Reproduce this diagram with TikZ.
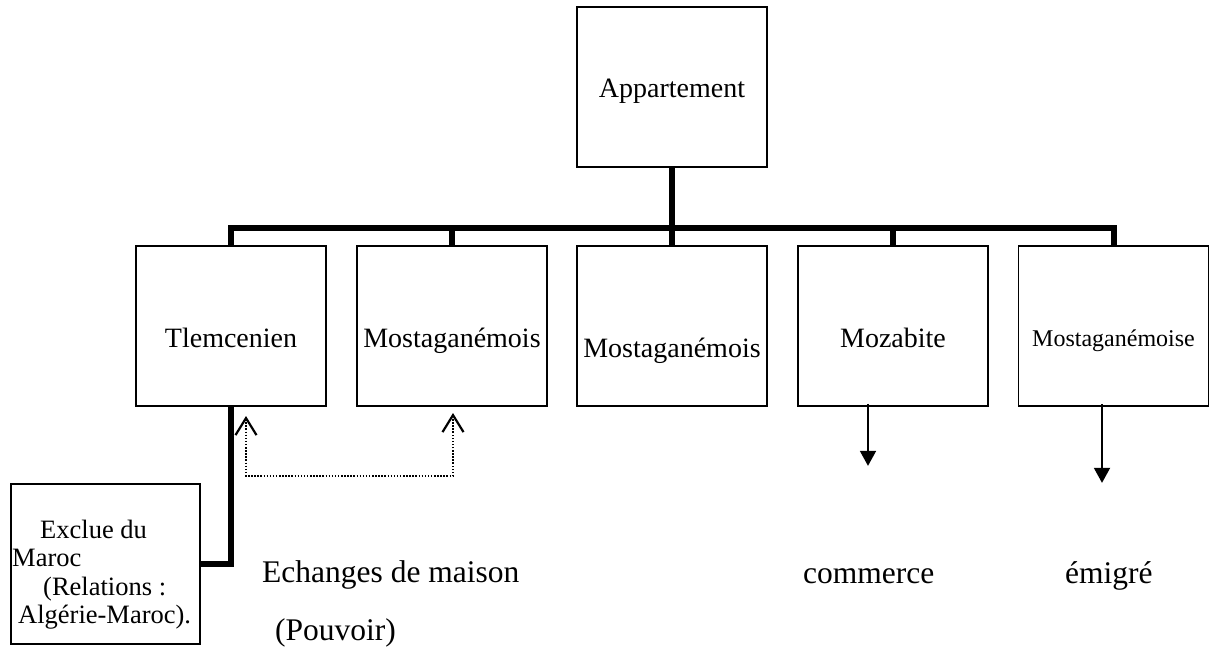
\documentclass[tikz,border=0pt]{standalone}
\usepackage{fontspec}
\setmainfont{Liberation Serif}
\usetikzlibrary{arrows.meta,calc}
\tikzset{barbtip/.tip={Straight Barb[length=17pt,width=21pt,line width=2.2pt]}}
\begin{document}
\begin{tikzpicture}[x=1pt,y=-1pt,
  box/.style={draw, line width=1.7pt, minimum width=190pt, minimum height=160pt, inner sep=0pt},
  boxtext/.style={anchor=base, inner sep=0pt, font=\fontsize{28}{34}\selectfont},
  smalltext/.style={anchor=base west, inner sep=0pt, font=\fontsize{26.5}{30}\selectfont},
  bigtext/.style={anchor=base west, inner sep=0pt, font=\fontsize{31.5}{38}\selectfont},
  trunk/.style={line width=6pt},
  link/.style={line width=1.8pt, -{Triangle[length=15pt,width=16pt]}},
  swap/.style={line width=1.5pt, dash pattern=on 1.5pt off 1.6pt, barbtip-barbtip}
]
\useasboundingbox (0,0) rectangle (1210,648);

% boxes
\node[box] (app) at (672,87) {};
\node[box] (t1) at (231,326) {};
\node[box] (m1) at (452,326) {};
\node[box] (m2) at (672,326) {};
\node[box] (mz) at (893,326) {};
\node[box] (me) at (1113.5,326) {};
\node[box, minimum width=189pt] (ex) at (105.5,564) {};

% box texts
\node[boxtext] (appT) at (672,97) {Appartement};
\node[boxtext] (t1T) at (231,347) {Tlemcenien};
\node[boxtext] (m1T) at (452,347) {Mostaganémois};
\node[boxtext] (m2T) at (672,357) {Mostaganémois};
\node[boxtext] (mzT) at (893,347) {Mozabite};
\node[boxtext, font=\fontsize{24}{29}\selectfont] (meT) at (1113.5,346) {Mostaganémoise};

\node[smalltext] (ex1) at (40,538) {Exclue du};
\node[smalltext] (ex2) at (12,566.5) {Maroc};
\node[smalltext] (ex3) at (43,595) {(Relations :};
\node[smalltext] (ex4) at (18,623) {Algérie-Maroc).};

% free texts
\node[bigtext] (ech) at (262,582) {Echanges de maison};
\node[bigtext] (pouv) at (275,640) {(Pouvoir)};
\node[bigtext] (comm) at (803,583) {commerce};
\node[bigtext] (emig) at (1065,583) {émigré};

% tree connectors
\coordinate (bar) at (672,228);
\draw[trunk] (app.south) -- (app.south |- bar);
\draw[trunk] (t1.north) -- (t1.north |- bar) -- (me.north |- bar) -- (me.north);
\draw[trunk] (m1.north) -- (m1.north |- bar);
\draw[trunk] (m2.north) -- (m2.north |- bar);
\draw[trunk] (mz.north) -- (mz.north |- bar);
\draw[trunk] (t1.south) |- (ex.east);

% exchange of houses
\coordinate (swapA) at (246,416);
\coordinate (swapB) at (453,413);
\coordinate (swapY) at (0,476);
\draw[swap] (swapA) -- (swapA |- swapY) -- (swapB |- swapY) -- (swapB);

% downward arrows
\draw[link] ($(mz.south)+(-25,-3)$) -- ($(mz.south)+(-25,59)$);
\draw[link] ($(me.south)+(-11.5,-3)$) -- ($(me.south)+(-11.5,76)$);
\end{tikzpicture}
\end{document}
